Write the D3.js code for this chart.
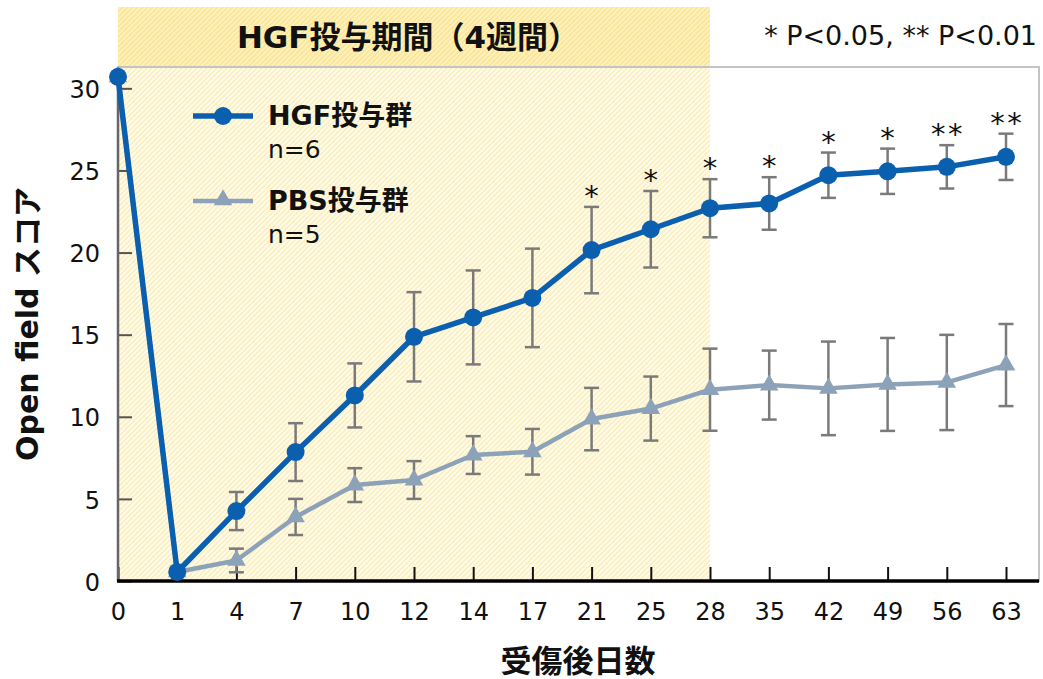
<!DOCTYPE html>
<html>
<head>
<meta charset="utf-8">
<script src="https://cdn.jsdelivr.net/npm/d3@7"></script>
<style>
  body { margin: 0; background: #fff; }
  svg { display: block; }
  text { font-family: "DejaVu Sans", "Noto Sans CJK JP", sans-serif; fill: #111; }
</style>
</head>
<body>
<svg id="chart" width="1043" height="679"></svg>
<script>
// Days after injury (categorical, equally spaced on the axis)
const days = ["0", "1", "4", "7", "10", "12", "14", "17", "21", "25", "28", "35", "42", "49", "56", "63"];

// HGF-treated group (n=6): mean score and error
const hgfMean = [30.7, 0.55, 4.26, 7.85, 11.3, 14.87, 16.05, 17.24, 20.15, 21.42, 22.7, 22.99, 24.71, 24.95, 25.22, 25.83];
const hgfErr  = [0, 0, 1.16, 1.76, 1.95, 2.72, 2.86, 3.0, 2.63, 2.33, 1.77, 1.6, 1.38, 1.38, 1.32, 1.41];

// PBS-treated group (n=5): mean score and error
const pbsMean = [30.7, 0.55, 1.25, 3.9, 5.84, 6.15, 7.67, 7.87, 9.86, 10.5, 11.65, 11.93, 11.73, 11.97, 12.09, 13.15];
const pbsErr  = [0, 0, 0.72, 1.1, 1.03, 1.15, 1.15, 1.39, 1.9, 1.95, 2.5, 2.1, 2.85, 2.83, 2.9, 2.5];

// Significance marks above the HGF group
const signif = ["", "", "", "", "", "", "", "", "*", "*", "*", "*", "*", "*", "**", "**"];

const yTicks = [0, 5, 10, 15, 20, 25, 30];
const dosingEnd = "28";

const HGF_BLUE = "#0a5fae";
const PBS_GREY = "#8ca2b8";
const ERR_GREY = "#7a7a7a";

const svg = d3.select("#chart");
const plot = { left: 118, right: 1039, top: 67, bottom: 581 };

const x = d3.scalePoint().domain(days).range([118, 1006]);
const y = d3.scaleLinear().domain([0, 31.3]).range([plot.bottom, plot.top]);

// Hatch patterns for the dosing period band
const defs = svg.append("defs");
function hatch(id, bg, stroke, w) {
  const p = defs.append("pattern")
    .attr("id", id).attr("patternUnits", "userSpaceOnUse")
    .attr("width", 5).attr("height", 5);
  if (bg) p.append("rect").attr("width", 5).attr("height", 5).attr("fill", bg);
  p.append("path")
    .attr("d", "M0,5 L5,0 M-1.5,1.5 L1.5,-1.5 M3.5,6.5 L6.5,3.5")
    .attr("stroke", stroke).attr("stroke-width", w);
}
hatch("hatchTop", "#fff2c2", "#fde596", 1.8);
hatch("hatchPlot", "#fffcf0", "#fdefbc", 1.6);

const bandRight = x(dosingEnd);
svg.append("rect")
  .attr("x", plot.left).attr("y", 7)
  .attr("width", bandRight - plot.left).attr("height", plot.top - 7)
  .attr("fill", "url(#hatchTop)");
svg.append("rect")
  .attr("x", plot.left).attr("y", plot.top)
  .attr("width", bandRight - plot.left).attr("height", plot.bottom - plot.top)
  .attr("fill", "url(#hatchPlot)");

// Plot frame
svg.append("rect")
  .attr("x", plot.left).attr("y", plot.top)
  .attr("width", plot.right - plot.left).attr("height", plot.bottom - plot.top)
  .attr("fill", "none").attr("stroke", "#c4c4c4").attr("stroke-width", 2);

// Band title
svg.append("text")
  .attr("x", 408).attr("y", 48)
  .attr("text-anchor", "middle")
  .attr("font-size", 31).attr("font-weight", "bold")
  .text("HGF投与期間（4週間）");

// Significance legend
svg.append("text")
  .attr("x", 1037).attr("y", 45)
  .attr("text-anchor", "end")
  .attr("font-size", 27)
  .text("* P<0.05, ** P<0.01");

// Axes
const xAxis = d3.axisBottom(x).tickSizeInner(-14).tickSizeOuter(0).tickPadding(22);
const gx = svg.append("g").attr("transform", `translate(0,${plot.bottom})`).call(xAxis);
gx.select(".domain").remove();
gx.selectAll(".tick line").attr("stroke", "#111").attr("stroke-width", 2);
gx.selectAll(".tick text").attr("font-size", 24).attr("fill", "#111")
  .style("font-family", '"DejaVu Sans", sans-serif');

const yAxis = d3.axisLeft(y).tickValues(yTicks).tickSizeInner(-14).tickSizeOuter(0).tickPadding(18);
const gy = svg.append("g").attr("transform", `translate(${plot.left},0)`).call(yAxis);
gy.select(".domain").remove();
gy.selectAll(".tick line").attr("stroke", "#555").attr("stroke-width", 2);
gy.selectAll(".tick text").attr("font-size", 24).attr("fill", "#111").attr("dy", "0.38em")
  .style("font-family", '"DejaVu Sans", sans-serif');

svg.append("line")
  .attr("x1", plot.left).attr("x2", plot.left)
  .attr("y1", plot.top).attr("y2", plot.bottom)
  .attr("stroke", "#666").attr("stroke-width", 2.5);
svg.append("line")
  .attr("x1", plot.left - 1).attr("x2", plot.right)
  .attr("y1", plot.bottom).attr("y2", plot.bottom)
  .attr("stroke", "#000").attr("stroke-width", 3.5);

// Axis titles
svg.append("text")
  .attr("transform", `translate(38,${(plot.top + plot.bottom) / 2}) rotate(-90)`)
  .attr("text-anchor", "middle")
  .attr("font-size", 30).attr("font-weight", "bold")
  .text("Open field スコア");
svg.append("text")
  .attr("x", 578).attr("y", 672)
  .attr("text-anchor", "middle")
  .attr("font-size", 31).attr("font-weight", "bold")
  .text("受傷後日数");

// Series drawing
function series(mean, err) {
  return days.map((d, i) => ({ day: d, m: mean[i], e: err[i], s: signif[i] }));
}
const hgf = series(hgfMean, hgfErr);
const pbs = series(pbsMean, pbsErr);

function errorBars(data) {
  const g = svg.append("g").attr("stroke", ERR_GREY).attr("stroke-width", 2.5).attr("fill", "none");
  data.filter(d => d.e > 0).forEach(d => {
    const cx = x(d.day), t = y(d.m + d.e), b = y(d.m - d.e);
    g.append("line").attr("x1", cx).attr("x2", cx).attr("y1", t).attr("y2", b);
    g.append("line").attr("x1", cx - 7.5).attr("x2", cx + 7.5).attr("y1", t).attr("y2", t);
    g.append("line").attr("x1", cx - 7.5).attr("x2", cx + 7.5).attr("y1", b).attr("y2", b);
  });
}
errorBars(pbs);
errorBars(hgf);

const line = d3.line().x(d => x(d.day)).y(d => y(d.m));
const triangle = d3.symbol().type(d3.symbolTriangle).size(150);

svg.append("path").datum(pbs)
  .attr("d", line).attr("fill", "none")
  .attr("stroke", PBS_GREY).attr("stroke-width", 4.5).attr("stroke-linejoin", "round");
svg.append("g").selectAll("path").data(pbs).join("path")
  .attr("d", triangle)
  .attr("transform", d => `translate(${x(d.day)},${y(d.m)})`)
  .attr("fill", PBS_GREY);

svg.append("path").datum(hgf)
  .attr("d", line).attr("fill", "none")
  .attr("stroke", HGF_BLUE).attr("stroke-width", 5.5).attr("stroke-linejoin", "round");
svg.append("g").selectAll("circle").data(hgf).join("circle")
  .attr("cx", d => x(d.day)).attr("cy", d => y(d.m)).attr("r", 9)
  .attr("fill", HGF_BLUE);

// Asterisks above the HGF error bars
const sg = svg.append("g").attr("font-size", 29).attr("text-anchor", "middle");
hgf.filter(d => d.s).forEach(d => {
  const n = d.s.length;
  const top = y(d.m + d.e) - 1;
  d3.range(n).forEach(k => {
    sg.append("text")
      .attr("x", x(d.day) + (k - (n - 1) / 2) * 17)
      .attr("y", top)
      .style("font-family", '"DejaVu Sans", sans-serif')
      .text("*");
  });
});

// Legend
const lg = svg.append("g");
lg.append("line").attr("x1", 193).attr("x2", 253).attr("y1", 116).attr("y2", 116)
  .attr("stroke", HGF_BLUE).attr("stroke-width", 5.5);
lg.append("circle").attr("cx", 223).attr("cy", 116).attr("r", 9).attr("fill", HGF_BLUE);
lg.append("text").attr("x", 268).attr("y", 125).attr("font-size", 27).attr("font-weight", "bold").text("HGF投与群");
lg.append("text").attr("x", 268).attr("y", 158).attr("font-size", 25).text("n=6");

lg.append("line").attr("x1", 193).attr("x2", 253).attr("y1", 201).attr("y2", 201)
  .attr("stroke", PBS_GREY).attr("stroke-width", 4.5);
lg.append("path").attr("d", triangle).attr("transform", "translate(223,200)").attr("fill", PBS_GREY);
lg.append("text").attr("x", 268).attr("y", 210).attr("font-size", 27).attr("font-weight", "bold").text("PBS投与群");
lg.append("text").attr("x", 268).attr("y", 243).attr("font-size", 25).text("n=5");
</script>
</body>
</html>
